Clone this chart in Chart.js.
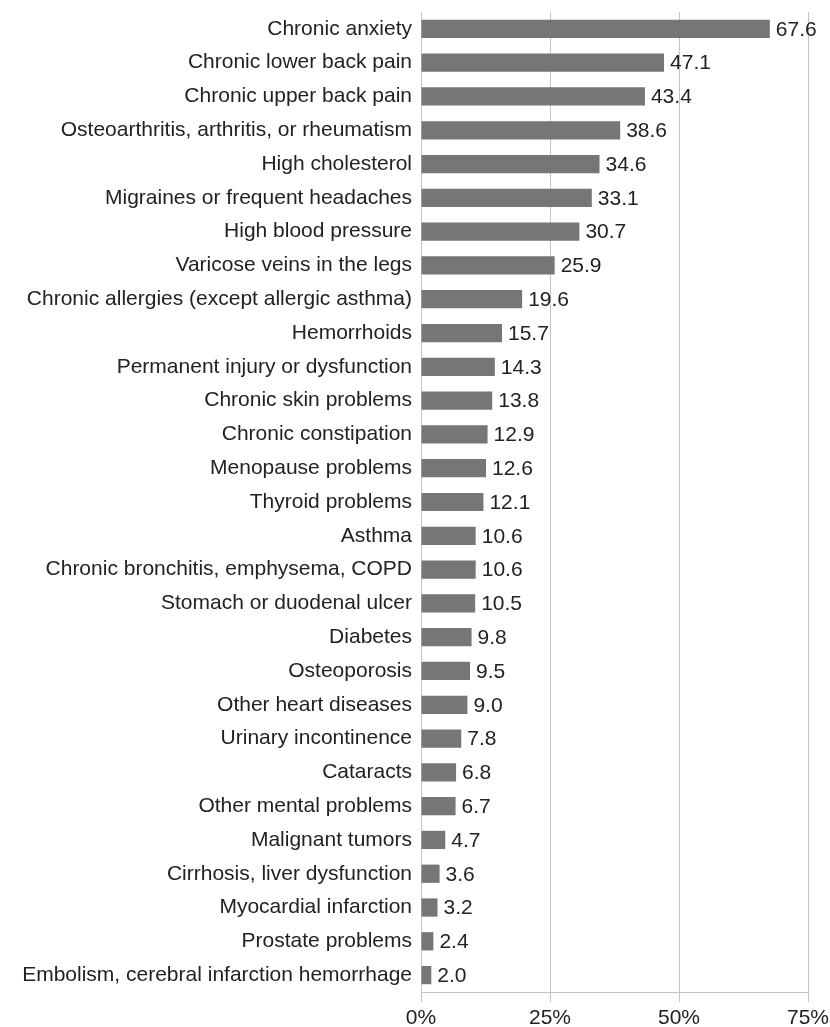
<!DOCTYPE html>
<html>
<head>
<meta charset="utf-8">
<script src="https://cdn.jsdelivr.net/npm/chart.js@4"></script>
<style>
  html, body { margin: 0; padding: 0; background: #fff; }
  #wrap { width: 830px; height: 1027px; }
</style>
</head>
<body>
<div id="wrap"><canvas id="conditionsChart"></canvas></div>
<script>
// Conditions, top to bottom
const conditions = [
  'Chronic anxiety',
  'Chronic lower back pain',
  'Chronic upper back pain',
  'Osteoarthritis, arthritis, or rheumatism',
  'High cholesterol',
  'Migraines or frequent headaches',
  'High blood pressure',
  'Varicose veins in the legs',
  'Chronic allergies (except allergic asthma)',
  'Hemorrhoids',
  'Permanent injury or dysfunction',
  'Chronic skin problems',
  'Chronic constipation',
  'Menopause problems',
  'Thyroid problems',
  'Asthma',
  'Chronic bronchitis, emphysema, COPD',
  'Stomach or duodenal ulcer',
  'Diabetes',
  'Osteoporosis',
  'Other heart diseases',
  'Urinary incontinence',
  'Cataracts',
  'Other mental problems',
  'Malignant tumors',
  'Cirrhosis, liver dysfunction',
  'Myocardial infarction',
  'Prostate problems',
  'Embolism, cerebral infarction hemorrhage'
];

// Share of respondents (%)
const shares = [
  67.6, 47.1, 43.4, 38.6, 34.6, 33.1, 30.7, 25.9, 19.6, 15.7,
  14.3, 13.8, 12.9, 12.6, 12.1, 10.6, 10.6, 10.5, 9.8, 9.5,
  9.0, 7.8, 6.8, 6.7, 4.7, 3.6, 3.2, 2.4, 2.0
];

// Axis ticks (%)
const xTicks = [0, 25, 50, 75];

const FONT = "'Liberation Sans', Arial, sans-serif";
const FONT_SIZE = 21;
const gridColor = '#c4c4c4';

// values printed at the end of each bar
const valueLabels = {
  id: 'valueLabels',
  afterDatasetsDraw(chart) {
    const ctx = chart.ctx;
    const meta = chart.getDatasetMeta(0);
    ctx.save();
    ctx.font = FONT_SIZE + 'px ' + FONT;
    ctx.fillStyle = '#222';
    ctx.textAlign = 'left';
    ctx.textBaseline = 'middle';
    meta.data.forEach((bar, i) => {
      ctx.fillText(shares[i].toFixed(1), bar.x + 6, bar.y + 1);
    });
    ctx.restore();
  }
};

const ctx = document.getElementById('conditionsChart').getContext('2d');
const conditionsChart = new Chart(ctx, {
  type: 'bar',
  data: {
    labels: conditions,
    datasets: [{
      data: shares,
      backgroundColor: '#767676',
      barPercentage: 0.54,
      categoryPercentage: 1.0
    }]
  },
  options: {
    indexAxis: 'y',
    responsive: true,
    maintainAspectRatio: false,
    animation: false,
    layout: { padding: { left: 0, right: 22, top: 12, bottom: 0 } },
    plugins: {
      legend: { display: false },
      tooltip: { enabled: false }
    },
    scales: {
      x: {
        min: 0,
        max: 75,
        afterBuildTicks(axis) {
          axis.ticks = xTicks.map(v => ({ value: v }));
        },
        afterFit(axis) {
          axis.height = 35;
          // let the 75% label run into the page margin
          axis.paddingLeft = 0;
          axis.paddingRight = 0;
        },
        grid: {
          color: gridColor,
          lineWidth: 1,
          drawTicks: true,
          tickLength: 10
        },
        border: { color: gridColor, width: 1 },
        ticks: {
          color: '#222',
          font: { family: FONT, size: FONT_SIZE },
          padding: 4,
          maxRotation: 0,
          callback: v => v + '%'
        }
      },
      y: {
        afterFit(axis) {
          axis.width = 421;
          axis.paddingTop = 0;
          axis.paddingBottom = 0;
        },
        grid: { display: false, drawTicks: false },
        border: { display: true, color: gridColor, width: 1 },
        ticks: {
          color: '#222',
          font: { family: FONT, size: FONT_SIZE },
          padding: 9,
          autoSkip: false
        }
      }
    }
  },
  plugins: [valueLabels]
});
</script>
</body>
</html>
